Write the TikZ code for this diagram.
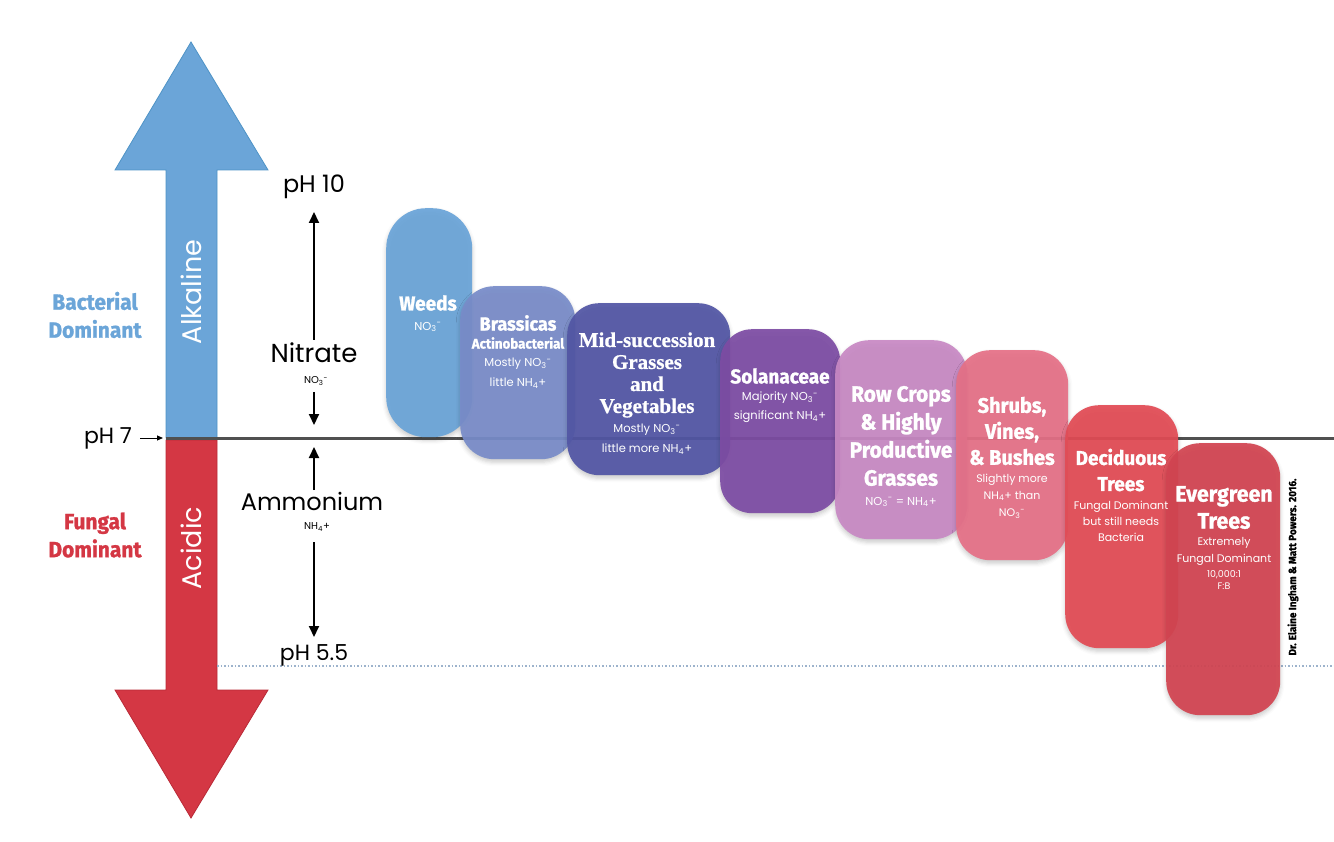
\documentclass[tikz,border=0pt]{standalone}
\usepackage{fontspec}
\setmainfont{Poppins}
\newfontfamily\hdfont[FakeStretch=0.95, FakeBold=1.2]{Fira Sans}
\newfontfamily\serifhd[FakeBold=0.8]{Liberation Serif}
\usetikzlibrary{arrows.meta,shadows.blur}
\definecolor{cBlue}{HTML}{6BA5D8}
\definecolor{cBlueEdge}{HTML}{4E93C6}
\definecolor{cRed}{HTML}{D43744}
\definecolor{cRedEdge}{HTML}{B92A37}
\definecolor{cWeeds}{HTML}{6AA4D8}
\definecolor{cBrass}{HTML}{788CC9}
\definecolor{cMid}{HTML}{5256A5}
\definecolor{cSolan}{HTML}{7D4CA4}
\definecolor{cRow}{HTML}{C889C4}
\definecolor{cShrub}{HTML}{E57087}
\definecolor{cDecid}{HTML}{E24B55}
\definecolor{cEver}{HTML}{D24451}
\definecolor{cLine}{HTML}{505050}
\definecolor{cDot}{HTML}{9DB3CC}
\newcommand{\NOt}{NO\textsubscript{3}\textsuperscript{-}}
\newcommand{\NHf}{NH\textsubscript{4}+}
\begin{document}
\begin{tikzpicture}[x=1pt,y=-1pt,
  box/.style={draw=none, inner sep=0pt, anchor=north west, fill opacity=0.93,
    blur shadow={shadow xshift=0pt, shadow yshift=-3pt, shadow blur radius=4pt, shadow opacity=22}},
  ttl/.style={text=white, align=center, inner sep=0pt, font=\hdfont\bfseries\fontsize{20}{22}\selectfont},
  sub/.style={text=white, align=center, inner sep=0pt, font=\fontsize{11.5}{20}\selectfont},
  lbl/.style={text=black, align=center, inner sep=0pt},
  arr/.style={line width=2pt, -{Triangle[width=10pt,length=11pt]}},
]
\useasboundingbox (0,0) rectangle (1334,842);

% big arrow
\path[fill=cBlue, draw=cBlueEdge, line width=0.8pt] (166,438) -- (166,170) -- (115,170) -- (191,42) -- (268,170) -- (217,170) -- (217,438) -- cycle;
\path[fill=cRed, draw=cRedEdge, line width=0.8pt] (166,440) -- (166,690) -- (115,690) -- (191,818) -- (268,690) -- (217,690) -- (217,440) -- cycle;
\node[text=white, rotate=90, inner sep=0pt, font=\fontsize{27}{30}\selectfont] (alk) at (191,292) {Alkaline};
\node[text=white, rotate=90, inner sep=0pt, font=\fontsize{27}{30}\selectfont] (acid) at (191,548) {Acidic};

% lines
\coordinate (l0) at (166,438);
\coordinate (l1) at (1334,438);
\draw[cLine, line width=3pt] (l0) -- (l1);
\coordinate (d0) at (217,666);
\coordinate (d1) at (1334,666);
\draw[cDot, line width=1.5pt, dotted] (d0) -- (d1);

% left labels
\node[text=cBlue, align=center, inner sep=0pt, font=\hdfont\bfseries\fontsize{22}{28}\selectfont] (bact) at (95,315) {Bacterial\\Dominant};
\node[text=cRed, align=center, inner sep=0pt, font=\hdfont\bfseries\fontsize{22}{28}\selectfont] (fung) at (95,535) {Fungal\\Dominant};
\node[lbl, font=\fontsize{22}{26}\selectfont] (ph7) at (108,438) {pH 7};
\coordinate (ph7t) at (163,438);
\draw[line width=0.8pt, -{Triangle[width=5pt,length=6pt]}] (140,438) -- (ph7t);

\node[lbl, font=\fontsize{24}{28}\selectfont] (ph10) at (314,187) {pH 10};
\node[lbl, font=\fontsize{26}{30}\selectfont] (nitrate) at (314,353) {Nitrate};
\node[lbl, font=\fontsize{10}{12}\selectfont] (no3) at (316,381) {\NOt};
\node[lbl, font=\fontsize{24}{30}\selectfont] (ammon) at (312,501) {Ammonium};
\node[lbl, font=\fontsize{10}{12}\selectfont] (nh4) at (317,527) {\NHf};
\node[lbl, font=\fontsize{22}{26}\selectfont] (ph55) at (314,655) {pH 5.5};
\coordinate (a1s) at (314,340);
\coordinate (a1e) at (314,212);
\coordinate (a2s) at (314,392);
\coordinate (a2e) at (314,425);
\coordinate (a3s) at (314,490);
\coordinate (a3e) at (314,447);
\coordinate (a4s) at (314,542);
\coordinate (a4e) at (314,637);
\draw[arr] (a1s) -- (a1e);
\draw[arr] (a2s) -- (a2e);
\draw[arr] (a3s) -- (a3e);
\draw[arr] (a4s) -- (a4e);

% boxes
\node[box, fill=cWeeds, minimum width=86pt, minimum height=229pt, rounded corners=40pt] (weeds) at (386,208) {};
\node[box, fill=cBrass, minimum width=115pt, minimum height=173pt, rounded corners=34pt] (brass) at (460,286) {};
\node[box, fill=cMid, minimum width=163pt, minimum height=172pt, rounded corners=32pt] (mid) at (567,303) {};
\node[box, fill=cSolan, minimum width=120pt, minimum height=184pt, rounded corners=32pt] (solan) at (720,329) {};
\node[box, fill=cRow, minimum width=132pt, minimum height=199pt, rounded corners=34pt] (row) at (835,340) {};
\node[box, fill=cShrub, minimum width=112pt, minimum height=210pt, rounded corners=34pt] (shrub) at (956,350) {};
\node[box, fill=cDecid, minimum width=113pt, minimum height=243pt, rounded corners=34pt] (decid) at (1065,405) {};
\node[box, fill=cEver, minimum width=114pt, minimum height=272pt, rounded corners=34pt] (ever) at (1166,443) {};

% box texts
\node[ttl] (weedsT) at (428,303) {Weeds};
\node[sub] (weedsS) at (428,327) {\NOt};

\node[ttl, font=\hdfont\bfseries\fontsize{19}{22}\selectfont] (brassT) at (518,323) {Brassicas};
\node[ttl, font=\hdfont\bfseries\fontsize{14}{16}\selectfont] (brassA) at (518,343) {Actinobacterial};
\node[sub] (brassS) at (518,373) {Mostly \NOt\\little \NHf};

\node[ttl, font=\serifhd\bfseries\fontsize{21}{22}\selectfont] (midT) at (647,375) {Mid-succession\\Grasses\\and\\Vegetables};
\node[sub] (midS) at (647,439) {Mostly \NOt\\little more \NHf};

\node[ttl] (solanT) at (780,376) {Solanaceae};
\node[sub, font=\fontsize{11.5}{19}\selectfont] (solanS) at (780,407.5) {Majority \NOt\\significant \NHf};

\node[ttl, font=\hdfont\bfseries\fontsize{22}{28}\selectfont] (rowT) at (901,436) {Row Crops\\\& Highly\\Productive\\Grasses};
\node[sub] (rowS) at (901,502) {\NOt{} = \NHf};

\node[ttl, font=\hdfont\bfseries\fontsize{21}{26}\selectfont] (shrubT) at (1012,431) {Shrubs,\\Vines,\\\& Bushes};
\node[sub, font=\fontsize{11}{17}\selectfont] (shrubS) at (1012,496) {Slightly more\\\NHf{} than\\\NOt};

\node[ttl, font=\hdfont\bfseries\fontsize{20}{26}\selectfont] (decidT) at (1121,470) {Deciduous\\Trees};
\node[sub, font=\fontsize{11}{16}\selectfont] (decidS) at (1121,521) {Fungal Dominant\\but still needs\\Bacteria};

\node[ttl, font=\hdfont\bfseries\fontsize{22.5}{27}\selectfont] (everT) at (1224,507.5) {Evergreen\\Trees};
\node[sub, font=\fontsize{11}{17}\selectfont] (everS) at (1224,551.5) {Extremely\\Fungal Dominant};
\node[sub, font=\fontsize{9.5}{12}\selectfont] (everR) at (1224,580) {10,000:1\\F:B};

% credit
\node[rotate=90, inner sep=0pt, font=\hdfont\bfseries\fontsize{10.5}{12}\selectfont] (credit) at (1293,567) {Dr. Elaine Ingham \& Matt Powers. 2016.};
\end{tikzpicture}
\end{document}
